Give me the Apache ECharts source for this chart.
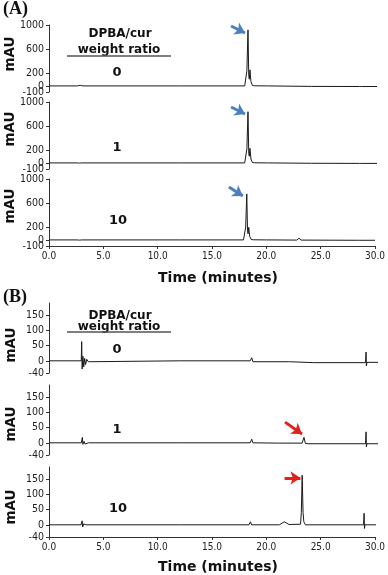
<!DOCTYPE html>
<html>
<head>
<meta charset="utf-8">
<script src="https://cdn.jsdelivr.net/npm/echarts@6/dist/echarts.min.js"></script>
<style>
html, body { margin: 0; padding: 0; background: #fff; }
#chart { width: 388px; height: 575px; }
</style>
</head>
<body>
<div id="chart"></div>
<script>
// tick labels
const timeTicks = [0, 5, 10, 15, 20, 25, 30]
const mauTicksA = [-100, 200, 600, 1000]
const mauZeroA = [0]
const mauTicksB = [-40, 0, 50, 100, 150]
const ratioLabels = ['0', '1', '10']

// chromatograms, [time (min), mAU]
const traceA0 = [[0, 0], [2.6, 0], [2.75, -6], [2.85, 10], [2.95, -5], [3.1, 0], [12, 0], [17.9, 0], [17.99, -15],
  [18.1, 250], [18.2, 920], [18.27, 170], [18.32, 110], [18.38, 264], [18.47, 70], [18.6, 8], [18.8, 2], [20, 0],
  [24, -8], [28.4, -10], [28.5, 15], [28.6, -10], [30, -10]]
const traceA1 = [[0, 0], [2.6, 0], [2.8, -4], [2.9, 6], [3.0, 0], [12, 0], [17.9, 0], [17.99, -12],
  [18.1, 230], [18.2, 840], [18.27, 160], [18.32, 110], [18.38, 240], [18.47, 65], [18.6, 8], [18.8, 2], [20, 0],
  [24, -6], [28.4, -8], [28.5, 15], [28.6, -8], [30, -8]]
const traceA2 = [[0, 0], [2.6, 0], [2.8, -4], [2.9, 5], [3.0, 0], [12, 0], [17.9, 0], [17.99, -12],
  [18.1, 210], [18.2, 755], [18.27, 150], [18.32, 100], [18.38, 207], [18.47, 60], [18.6, 8], [18.8, 2], [20, 0],
  [22.8, -3], [23.0, 28], [23.2, -3], [28.4, -6], [28.5, 15], [28.6, -6], [30, -6]]
const traceB0 = [[0, 0], [2.95, 0], [2.99, 63], [3.03, -27], [3.1, 15], [3.18, -20], [3.26, 8], [3.35, -12],
  [3.45, 5], [3.6, -3], [3.75, 0], [12, 0], [18.4, 0], [18.54, 10], [18.65, -3], [22, -3], [24.2, -6],
  [28.95, -6], [29.0, 29], [29.03, -17], [29.08, -5], [30.46, -5]]
const traceB1 = [[0, 0], [2.95, 0], [3.05, 18], [3.1, -5], [3.2, 5], [3.3, -4], [3.6, 0], [12, 0], [18.4, 0],
  [18.54, 12], [18.65, 0], [21, -1], [23.15, -1], [23.32, 18], [23.45, -2], [23.7, -3], [28.95, -3], [29.0, 36],
  [29.03, -13], [29.08, -3], [30.46, -3]]
const traceB2 = [[0, 0], [2.95, 0], [3.05, 13], [3.1, -7], [3.2, 3], [3.4, 0], [12, 0], [18.4, 0], [18.54, 10],
  [18.65, 0], [21.2, 0], [21.65, 10], [22.1, 1], [23.15, 2], [23.22, 40], [23.3, 163], [23.38, 40], [23.45, 10],
  [23.6, 0], [28.95, 0], [29.0, 38], [29.03, -12], [29.08, 0], [30.46, 0]]

// arrow annotations, [start, end] in [time, mAU]
const arrowA0 = [[16.65, 984], [17.93, 869]]
const arrowA1 = [[16.65, 918], [17.93, 803]]
const arrowA2 = [[16.56, 869], [17.84, 721]]
const arrowB1 = [[21.59, 68], [23.14, 29]]
const arrowB2 = [[21.68, 154], [23.14, 154]]

const chart = echarts.init(document.getElementById('chart'))

const panels = [
  { data: traceA0, top: 25, height: 67, min: -100, max: 1000, ticks: mauTicksA, arrow: arrowA0, arrowColor: '#4a7fc1', bottom: false },
  { data: traceA1, top: 102, height: 67, min: -100, max: 1000, ticks: mauTicksA, arrow: arrowA1, arrowColor: '#4a7fc1', bottom: false },
  { data: traceA2, top: 179, height: 67, min: -100, max: 1000, ticks: mauTicksA, arrow: arrowA2, arrowColor: '#4a7fc1', bottom: true },
  { data: traceB0, top: 303, height: 70, min: -40, max: 190, ticks: mauTicksB, arrow: null, bottom: false },
  { data: traceB1, top: 385, height: 70, min: -40, max: 190, ticks: mauTicksB, arrow: arrowB1, arrowColor: '#e3201b', bottom: false },
  { data: traceB2, top: 467, height: 70, min: -40, max: 190, ticks: mauTicksB, arrow: arrowB2, arrowColor: '#e3201b', bottom: true }
]

const tickFont = "'DejaVu Sans Condensed', 'DejaVu Sans', sans-serif"
const boldFont = "'DejaVu Sans', Verdana, sans-serif"

const grid = panels.map(p => ({ left: 49, width: 328, top: p.top, height: p.height }))

const xAxis = panels.map((p, i) => ({
  type: 'value',
  gridIndex: i,
  min: 0,
  max: 30,
  show: p.bottom,
  axisLine: { onZero: false, lineStyle: { color: '#333', width: 1 } },
  axisTick: { show: true, length: 3, customValues: timeTicks, lineStyle: { color: '#333' } },
  axisLabel: {
    customValues: timeTicks,
    formatter: v => v.toFixed(1),
    fontFamily: tickFont,
    fontSize: 10,
    color: '#222',
    margin: 5
  },
  splitLine: { show: false }
}))

const yLabel = ticks => ({
  customValues: ticks,
  formatter: v => String(v),
  hideOverlap: false,
  fontFamily: tickFont,
  fontSize: 10.5,
  color: '#222',
  margin: 5
})

const yAxis = panels.map((p, i) => ({
  type: 'value',
  gridIndex: i,
  min: p.min,
  max: p.max,
  axisLine: { show: true, onZero: false, lineStyle: { color: '#333', width: 1 } },
  axisTick: { show: true, length: 3, customValues: p.ticks, lineStyle: { color: '#333' } },
  axisLabel: yLabel(p.ticks),
  splitLine: { show: false }
}))
// the "0" label of the (A) panels sits on top of "-100"; a second axis keeps it visible
panels.forEach((p, i) => {
  if (p.max !== 1000) return
  yAxis.push({
    type: 'value',
    gridIndex: i,
    position: 'left',
    min: p.min,
    max: p.max,
    axisLine: { show: false },
    axisTick: { show: true, length: 3, customValues: mauZeroA, lineStyle: { color: '#333' } },
    axisLabel: yLabel(mauZeroA),
    splitLine: { show: false }
  })
})

const series = panels.map((p, i) => {
  const s = {
    type: 'line',
    xAxisIndex: i,
    yAxisIndex: i,
    data: p.data,
    showSymbol: false,
    symbol: 'none',
    clip: false,
    lineStyle: { color: '#1a1a1a', width: 1 }
  }
  if (p.arrow) {
    s.markLine = {
      silent: true,
      symbol: ['none', 'arrow'],
      symbolSize: [10, 10],
      label: { show: false },
      lineStyle: { color: p.arrowColor, width: 3, type: 'solid' },
      data: [[{ coord: p.arrow[0] }, { coord: p.arrow[1] }]]
    }
  }
  return s
})

const textStyle = (text, size) => ({
  text: text,
  fontFamily: boldFont,
  fontWeight: 'bold',
  fontSize: size,
  fill: '#111',
  align: 'center',
  verticalAlign: 'middle'
})

// mAU label centres (x, y) per panel
const mauPos = [[10, 54], [10, 129], [10, 206], [11, 345], [11, 424], [11, 507]]
// ratio label centres
const ratioPos = [[117, 73], [117, 148], [118, 221], [117, 350], [117, 430], [118, 509]]

const graphic = []
mauPos.forEach(pos => {
  graphic.push({ type: 'text', x: pos[0], y: pos[1], rotation: Math.PI / 2, style: textStyle('mAU', 13.5) })
})
ratioPos.forEach((pos, i) => {
  graphic.push({ type: 'text', x: pos[0], y: pos[1], style: textStyle(ratioLabels[i % 3], 13) })
})
;[[34, 49.5, 56], [316, 327, 332]].forEach(r => {
  graphic.push({ type: 'text', x: 120, y: r[0], style: textStyle('DPBA/cur', 12) })
  graphic.push({ type: 'text', x: 119, y: r[1], style: textStyle('weight ratio', 12) })
  graphic.push({ type: 'line', shape: { x1: 67, y1: r[2], x2: 171, y2: r[2] }, style: { stroke: '#555', lineWidth: 1.5 } })
})
;[278, 567].forEach(y => {
  graphic.push({ type: 'text', x: 218, y: y, style: textStyle('Time (minutes)', 14) })
})
graphic.push({ type: 'text', x: 3, y: 9, style: { text: '(A)', fontFamily: "'Liberation Serif', serif", fontWeight: 'bold', fontSize: 18, fill: '#111', align: 'left', verticalAlign: 'middle' } })
graphic.push({ type: 'text', x: 3, y: 297, style: { text: '(B)', fontFamily: "'Liberation Serif', serif", fontWeight: 'bold', fontSize: 18, fill: '#111', align: 'left', verticalAlign: 'middle' } })

chart.setOption({
  animation: false,
  backgroundColor: '#fff',
  grid: grid,
  xAxis: xAxis,
  yAxis: yAxis,
  series: series,
  graphic: graphic
})
</script>
</body>
</html>
